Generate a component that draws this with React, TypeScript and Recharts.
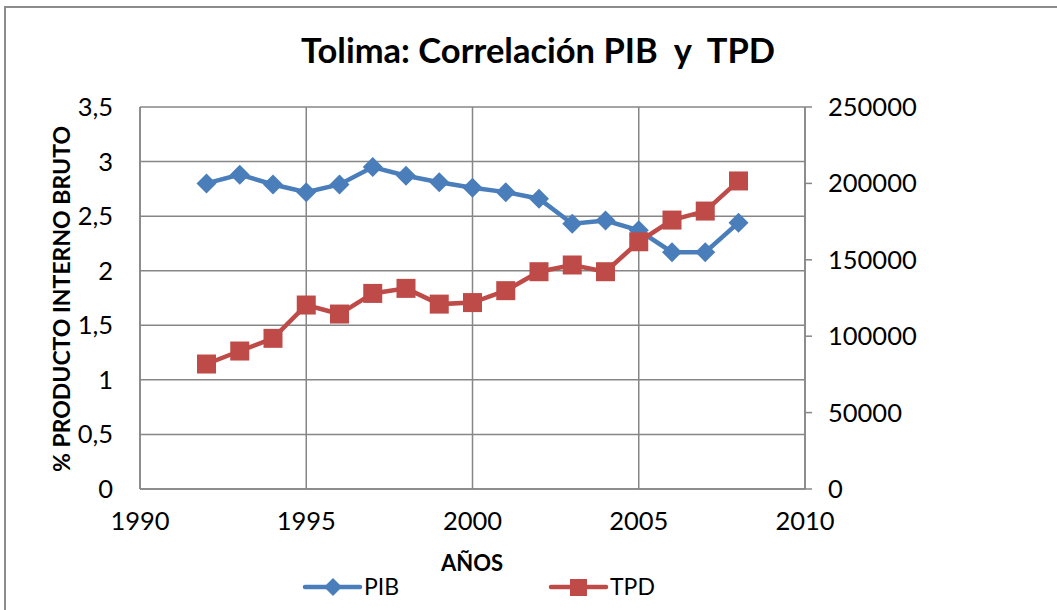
import React from "react";
import {
  CartesianGrid,
  Legend,
  Line,
  LineChart,
  XAxis,
  YAxis,
} from "recharts";

// Años del eje X
const years = [
  1992, 1993, 1994, 1995, 1996, 1997, 1998, 1999, 2000, 2001, 2002, 2003,
  2004, 2005, 2006, 2007, 2008,
];

// % producto interno bruto (eje izquierdo)
const pibValues = [
  2.8, 2.88, 2.79, 2.72, 2.79, 2.95, 2.87, 2.81, 2.76, 2.72, 2.66, 2.43, 2.46,
  2.37, 2.17, 2.17, 2.44,
];

// TPD (eje derecho)
const tpdValues = [
  81800, 90300, 98600, 120400, 114500, 128000, 131300, 121000, 122000, 129800,
  142200, 146600, 142200, 161800, 176000, 181900, 201600,
];

const xTicks = [1990, 1995, 2000, 2005, 2010];
const leftTicks = [0, 0.5, 1, 1.5, 2, 2.5, 3, 3.5];
const rightTicks = [0, 50000, 100000, 150000, 200000, 250000];

const data = years.map((year, i) => ({
  year,
  PIB: pibValues[i],
  TPD: tpdValues[i],
}));

const BLUE = "#4A7EBB";
const RED = "#BE4B48";
const GRID = "#868686";
const FONT = "Lato, 'Open Sans', sans-serif";

const DiamondDot = (props: any) => {
  const { cx, cy, index } = props;
  if (cx == null || cy == null) return <g key={`d-${index}`} />;
  const r = 10;
  return (
    <polygon
      key={`d-${index}`}
      points={`${cx},${cy - r} ${cx + r},${cy} ${cx},${cy + r} ${cx - r},${cy}`}
      fill={BLUE}
    />
  );
};

const SquareDot = (props: any) => {
  const { cx, cy, index } = props;
  if (cx == null || cy == null) return <g key={`s-${index}`} />;
  const s = 19;
  return (
    <rect
      key={`s-${index}`}
      x={cx - s / 2}
      y={cy - s / 2}
      width={s}
      height={s}
      fill={RED}
    />
  );
};

const LegendContent = () => (
  <svg width={1057} height={30} style={{ display: "block" }}>
    <line x1={305} y1={15} x2={360} y2={15} stroke={BLUE} strokeWidth={4.5} strokeLinecap="round" />
    <polygon points="333,6 342,15 333,24 324,15" fill={BLUE} />
    <text x={364} y={23} fontSize={23} fontFamily={FONT} fill="#000">
      PIB
    </text>
    <line x1={551} y1={15} x2={606} y2={15} stroke={RED} strokeWidth={4.5} strokeLinecap="round" />
    <rect x={570} y={7} width={17} height={17} fill={RED} />
    <text x={610} y={23} fontSize={23} fontFamily={FONT} fill="#000">
      TPD
    </text>
  </svg>
);

const tickStyle = { fill: "#000", fontSize: 25.5, fontFamily: FONT };

export default function App() {
  return (
    <div
      style={{
        position: "absolute",
        left: 0,
        top: 0,
        width: 1057,
        height: 610,
        background: "#fff",
        fontFamily: FONT,
      }}
    >
      {/* marco del gráfico */}
      <div
        style={{
          position: "absolute",
          left: 4,
          top: 6,
          width: 1053,
          height: 604,
          borderTop: "2px solid #8c8c8c",
          borderLeft: "2px solid #8c8c8c",
        }}
      />
      <div
        style={{
          position: "absolute",
          left: 0,
          top: 29,
          width: 1076,
          textAlign: "center",
          fontSize: 34.5,
          fontWeight: 700,
          whiteSpace: "pre",
          color: "#000",
        }}
      >
        {"Tolima: Correlación PIB  y  TPD"}
      </div>
      <div
        style={{
          position: "absolute",
          left: 0,
          top: 549,
          width: 944,
          textAlign: "center",
          fontSize: 22,
          fontWeight: 700,
          color: "#000",
        }}
      >
        AÑOS
      </div>
      <LineChart
        width={1057}
        height={610}
        data={data}
        margin={{ top: 107, right: 0, left: 0, bottom: 51 }}
        style={{ position: "absolute", left: 0, top: 0 }}
      >
        <CartesianGrid stroke={GRID} strokeWidth={1.5} yAxisId="left" />
        <XAxis
          dataKey="year"
          type="number"
          domain={[1990, 2010]}
          ticks={xTicks}
          height={40}
          axisLine={{ stroke: GRID, strokeWidth: 1.5 }}
          tickLine={false}
          tickSize={0}
          tickMargin={23}
          tick={tickStyle}
          interval={0}
        />
        <YAxis
          yAxisId="left"
          domain={[0, 3.5]}
          ticks={leftTicks}
          width={140}
          axisLine={{ stroke: GRID, strokeWidth: 1.5 }}
          tickLine={false}
          tickSize={0}
          tickMargin={27}
          tick={tickStyle}
          interval={0}
          tickFormatter={(v: number) => String(v).replace(".", ",")}
          label={{
            content: () => (
              <text
                x={0}
                y={0}
                transform="translate(61 299) rotate(-90)"
                textAnchor="middle"
                dominantBaseline="central"
                fontSize={23}
                fontWeight={700}
                fontFamily={FONT}
                fill="#000"
              >
                % PRODUCTO INTERNO BRUTO
              </text>
            ),
          }}
        />
        <YAxis
          yAxisId="right"
          orientation="right"
          domain={[0, 250000]}
          ticks={rightTicks}
          width={252}
          axisLine={{ stroke: GRID, strokeWidth: 1.5 }}
          tickLine={{ stroke: GRID, strokeWidth: 1.5 }}
          tickSize={7}
          tickMargin={16}
          tick={tickStyle}
          interval={0}
        />
        <Legend
          content={<LegendContent />}
          wrapperStyle={{ position: "absolute", left: 0, top: 572, width: 1057 }}
        />
        <Line
          yAxisId="left"
          dataKey="PIB"
          name="PIB"
          stroke={BLUE}
          strokeWidth={4.5}
          dot={DiamondDot}
          activeDot={false}
          isAnimationActive={false}
        />
        <Line
          yAxisId="right"
          dataKey="TPD"
          name="TPD"
          stroke={RED}
          strokeWidth={4.5}
          dot={SquareDot}
          activeDot={false}
          isAnimationActive={false}
        />
      </LineChart>
    </div>
  );
}
